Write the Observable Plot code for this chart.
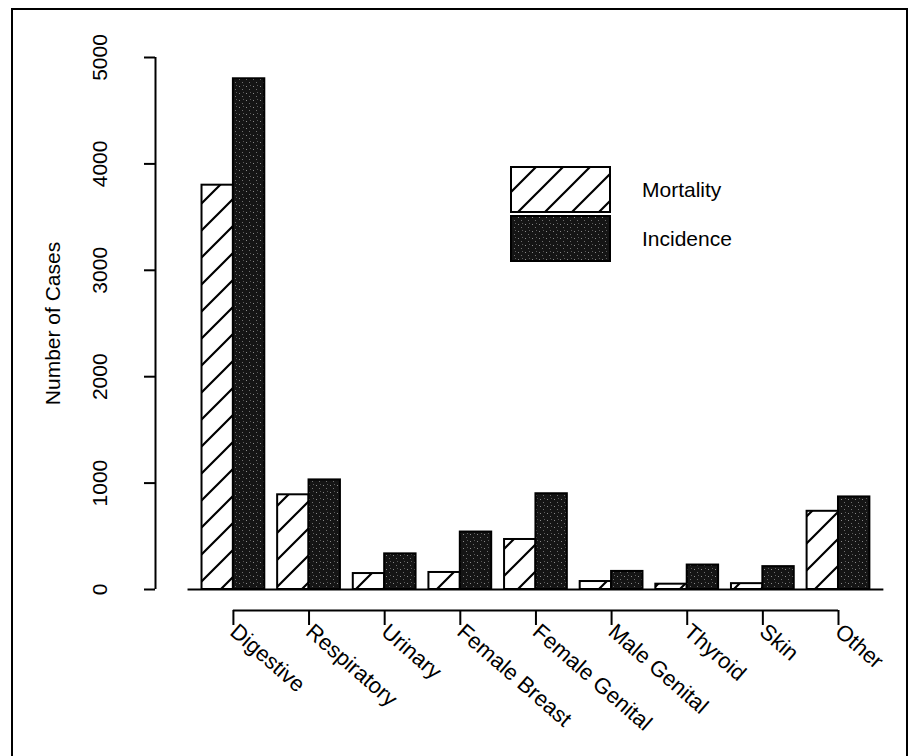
<!DOCTYPE html>
<html><head><meta charset="utf-8">
<script src="https://cdn.jsdelivr.net/npm/d3@7"></script>
<script src="https://cdn.jsdelivr.net/npm/@observablehq/plot@0.6"></script>
<style>
body{margin:0;background:#fff;font-family:"Liberation Sans",Arial,sans-serif;}
#wrap{position:relative;width:912px;height:756px;overflow:hidden;background:#fff;}
#border{position:absolute;left:11px;top:8px;width:897px;height:770px;border:2px solid #000;box-sizing:border-box;pointer-events:none;}
#legend{position:absolute;left:510px;top:166px;}
#chart{position:absolute;left:0;top:0;}
</style></head><body>
<div id="wrap">
<svg width="0" height="0" style="position:absolute">
<defs>
<pattern id="hatch" patternUnits="userSpaceOnUse" width="27" height="27">
 <rect width="27" height="27" fill="#fff"/>
 <path d="M-2,29 L29,-2 M-2,2 L2,-2 M25,29 L29,25" stroke="#000" stroke-width="2.2"/>
</pattern>
<pattern id="stipple" patternUnits="userSpaceOnUse" width="7" height="7">
 <rect width="7" height="7" fill="#151515"/>
 <rect x="1" y="2" width="1" height="1" fill="#8a8a8a"/>
 <rect x="4" y="5" width="1" height="1" fill="#707070"/>
 <rect x="5" y="1" width="1" height="1" fill="#5a5a5a"/>
</pattern>
</defs></svg>
<div id="chart"></div>
<div id="legend"></div>
<div id="border"></div>
</div>
<script>
const categories = ["Digestive","Respiratory","Urinary","Female Breast","Female Genital","Male Genital","Thyroid","Skin","Other"];
const mortality = [3800, 890, 150, 160, 470, 75, 50, 55, 735];
const incidence = [4800, 1030, 335, 540, 900, 170, 230, 215, 870];
const seriesNames = ["Mortality", "Incidence"];
const seriesFills = ["url(#hatch)", "url(#stipple)"];
const yTicks = [0, 1000, 2000, 3000, 4000, 5000];
const yLabel = "Number of Cases";

const rows = categories.flatMap((c, i) => [
  {category: c, i, series: "Mortality", value: mortality[i]},
  {category: c, i, series: "Incidence", value: incidence[i]}
]);

const BAR = 0.415;          // bar width in category units
const XD = [-1.03, 8.8];    // x domain (category index units)

const chart = Plot.plot({
  width: 912, height: 756,
  marginLeft: 155, marginRight: 13.5, marginTop: 57, marginBottom: 167,
  style: {fontFamily: "'Liberation Sans', Arial, sans-serif", fontSize: "21px", color: "#000", background: "transparent"},
  x: {type: "linear", domain: XD},
  y: {domain: [0, 5000]},
  color: {domain: seriesNames, range: seriesFills},
  marks: [
    Plot.rectY(rows, {
      x1: d => d.series === "Mortality" ? d.i - BAR : d.i,
      x2: d => d.series === "Mortality" ? d.i : d.i + BAR,
      y: "value", fill: "series", stroke: "#000", strokeWidth: 2
    }),
    Plot.ruleY([0], {x1: -0.6, x2: 8.6, strokeWidth: 2}),
    Plot.ruleX([XD[0]], {y1: 0, y2: 5000, strokeWidth: 2}),
    Plot.axisY(yTicks, {tickSize: 11, tickRotate: -90, tickPadding: 38, textAnchor: "middle", fontSize: 21, strokeWidth: 2,
      tickFormat: d => String(d),
      label: yLabel, labelAnchor: "center", labelOffset: 110, labelArrow: "none"}),
    Plot.ruleY([0], {x1: 0, x2: categories.length - 1, dy: 21, strokeWidth: 2}),
    Plot.axisX(d3.range(categories.length), {tickFormat: i => categories[i], tickSize: 15, tickRotate: 41, tickPadding: 3,
      dy: 21, fontSize: 22, strokeWidth: 2, label: null})
  ]
});
document.getElementById("chart").appendChild(chart);

// legend
const NS = "http://www.w3.org/2000/svg";
const lg = document.createElementNS(NS, "svg");
lg.setAttribute("width", 260); lg.setAttribute("height", 100);
seriesNames.forEach((s, k) => {
  const r = document.createElementNS(NS, "rect");
  r.setAttribute("x", 1); r.setAttribute("y", 1 + k * 49);
  r.setAttribute("width", 99); r.setAttribute("height", 45);
  r.setAttribute("fill", seriesFills[k]); r.setAttribute("stroke", "#000"); r.setAttribute("stroke-width", 2);
  lg.appendChild(r);
  const t = document.createElementNS(NS, "text");
  t.setAttribute("x", 132); t.setAttribute("y", 24 + k * 49);
  t.setAttribute("dy", "0.35em");
  t.setAttribute("font-size", 21);
  t.setAttribute("font-family", "'Liberation Sans', Arial, sans-serif");
  t.textContent = s;
  lg.appendChild(t);
});
document.getElementById("legend").appendChild(lg);
</script>
</body></html>
